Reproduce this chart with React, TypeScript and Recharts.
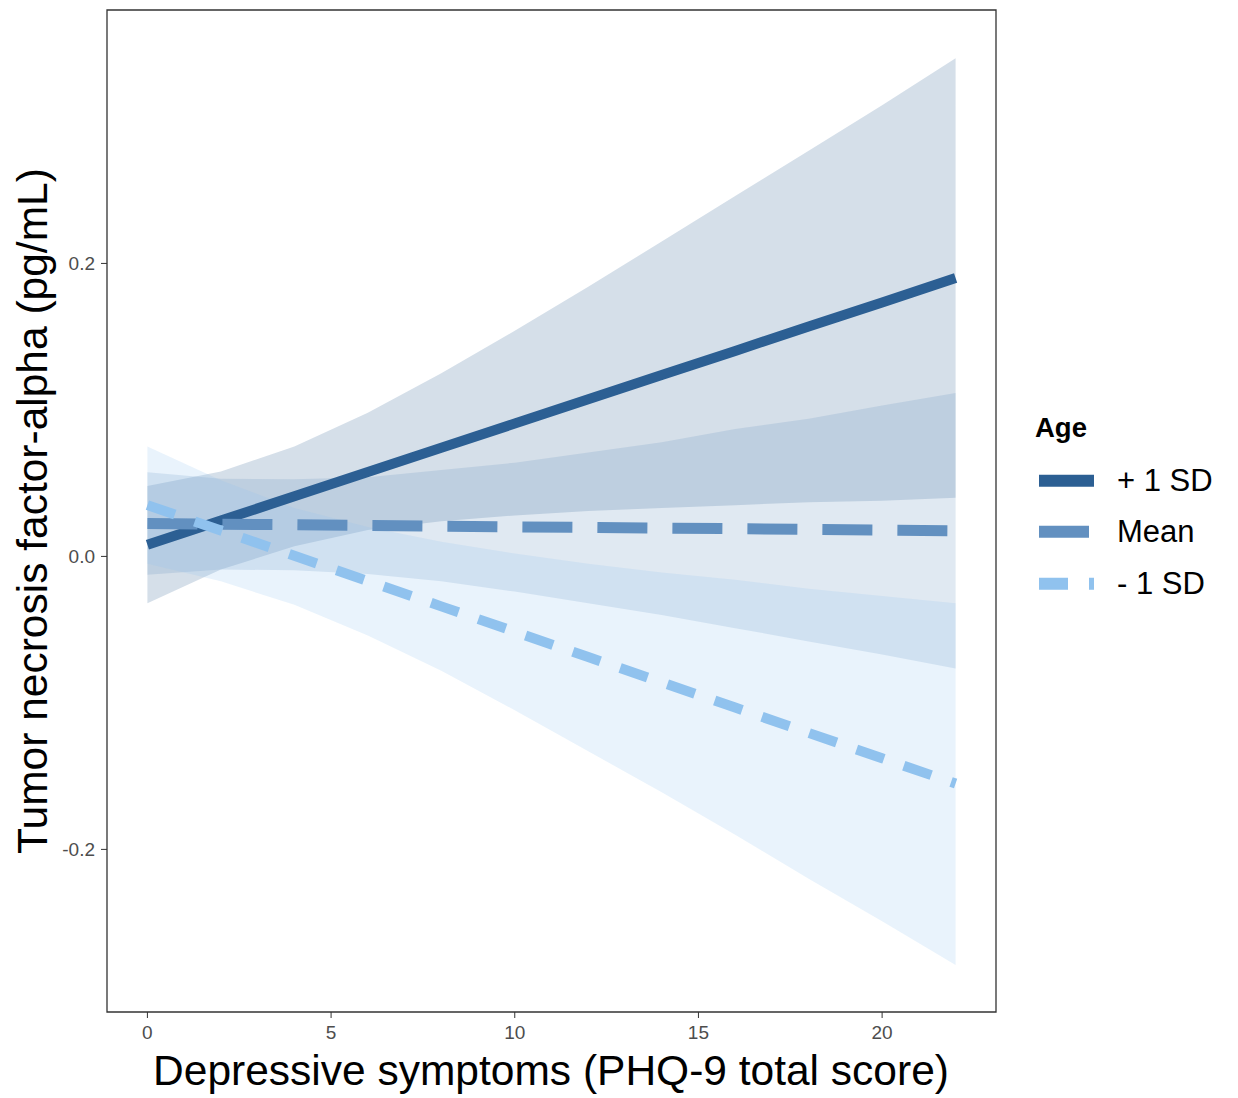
import React from "react";
import { ComposedChart, Area, Line, XAxis, YAxis, ReferenceArea } from "recharts";

// PHQ-9 score grid
const X_VALUES = [0, 2, 4, 6, 8, 10, 12, 14, 16, 18, 20, 22];

// + 1 SD age
const PLUS_FIT = [0.008, 0.0245, 0.041, 0.0576, 0.0742, 0.0907, 0.1072, 0.1238, 0.1403, 0.1569, 0.1734, 0.19];
const PLUS_LOW = [-0.032, -0.009, 0.007, 0.018, 0.024, 0.028, 0.031, 0.033, 0.035, 0.037, 0.038, 0.04];
const PLUS_HIGH = [0.048, 0.058, 0.075, 0.098, 0.125, 0.154, 0.184, 0.215, 0.246, 0.277, 0.308, 0.34];

// mean age
const MEAN_FIT = [0.0225, 0.022, 0.0216, 0.0211, 0.0207, 0.0202, 0.0198, 0.0193, 0.0189, 0.0184, 0.018, 0.0175];
const MEAN_LOW = [-0.0125, -0.009, -0.0094, -0.012, -0.017, -0.024, -0.032, -0.04, -0.049, -0.058, -0.067, -0.0765];
const MEAN_HIGH = [0.0575, 0.053, 0.0526, 0.054, 0.059, 0.064, 0.071, 0.078, 0.087, 0.094, 0.103, 0.1115];

// - 1 SD age
const MINUS_FIT = [0.035, 0.0177, 0.0004, -0.0168, -0.0341, -0.0514, -0.0687, -0.086, -0.1032, -0.1205, -0.1378, -0.155];
const MINUS_LOW = [-0.005, -0.017, -0.033, -0.054, -0.078, -0.105, -0.133, -0.161, -0.19, -0.22, -0.249, -0.279];
const MINUS_HIGH = [0.075, 0.052, 0.033, 0.02, 0.01, 0.002, -0.005, -0.011, -0.016, -0.022, -0.027, -0.032];

const X_TICKS = [0, 5, 10, 15, 20];
const Y_TICKS = [-0.2, 0, 0.2];
const X_DOMAIN: [number, number] = [-1.1, 23.1];
const Y_DOMAIN: [number, number] = [-0.311, 0.373];

const SERIES = [
  { name: "+ 1 SD", color: "#2c5f93", dash: undefined, width: 10 },
  { name: "Mean", color: "#6290c0", dash: "50 25", width: 11 },
  { name: "- 1 SD", color: "#90c2ee", dash: "29 21", width: 10 },
];

const FONT = "'Liberation Sans', Arial, sans-serif";

const data = X_VALUES.map((x, i) => ({
  x,
  plus: PLUS_FIT[i],
  plusBand: [PLUS_LOW[i], PLUS_HIGH[i]],
  mean: MEAN_FIT[i],
  meanBand: [MEAN_LOW[i], MEAN_HIGH[i]],
  minus: MINUS_FIT[i],
  minusBand: [MINUS_LOW[i], MINUS_HIGH[i]],
}));

function YTitle() {
  const cx = 24;
  const cy = 503;
  return (
    <text x={cx} y={cy} transform={`rotate(-90 ${cx} ${cy})`} textAnchor="middle" dominantBaseline="central"
      fontSize={42.5} fontFamily={FONT} fill="#000">
      Tumor necrosis factor-alpha (pg/mL)
    </text>
  );
}

function XTitle() {
  return (
    <text x={543} y={1062} textAnchor="middle" dominantBaseline="central" fontSize={42.5} fontFamily={FONT} fill="#000">
      Depressive symptoms (PHQ-9 total score)
    </text>
  );
}

function AgeLegend() {
  const rows = [80.7, 131.7, 183.7];
  return (
    <svg width={218} height={220} style={{ position: "absolute", left: 1012, top: 392 }}>
      <text x={15} y={37} fontSize={27.5} fontWeight="bold" fontFamily={FONT} fill="#000">Age</text>
      {SERIES.map((s, i) => (
        <g key={s.name}>
          <line x1={19} x2={74} y1={rows[i]} y2={rows[i]} stroke={s.color} strokeWidth={12} strokeDasharray={s.dash} />
          <text x={97} y={rows[i]} dominantBaseline="central" fontSize={31} fontFamily={FONT} fill="#000">{s.name}</text>
        </g>
      ))}
    </svg>
  );
}

export default function App() {
  const tickStyle = { fill: "#4d4d4d", fontSize: 19, fontFamily: FONT };
  return (
    <div style={{ position: "relative", width: 1230, height: 1090, background: "#fff" }}>
      <ComposedChart width={1230} height={1090} data={data} margin={{ top: 2, right: 242, bottom: 0, left: 0 }}>
        <XAxis type="number" dataKey="x" domain={X_DOMAIN} ticks={X_TICKS} allowDataOverflow height={86}
          axisLine={false} tickSize={6} tickMargin={8} tickLine={{ stroke: "#333" }} tick={tickStyle}
          label={<XTitle />} />
        <YAxis type="number" domain={Y_DOMAIN} ticks={Y_TICKS} allowDataOverflow width={99}
          axisLine={false} tickSize={6} tickMargin={6} tickLine={{ stroke: "#333" }} tick={tickStyle}
          tickFormatter={(v: number) => v.toFixed(1)} label={<YTitle />} />
        <Area type="linear" dataKey="plusBand" fill="#2c5f93" fillOpacity={0.2} stroke="none" isAnimationActive={false} />
        <Area type="linear" dataKey="meanBand" fill="#6290c0" fillOpacity={0.2} stroke="none" isAnimationActive={false} />
        <Area type="linear" dataKey="minusBand" fill="#90c2ee" fillOpacity={0.2} stroke="none" isAnimationActive={false} />
        <Line type="linear" dataKey="plus" stroke={SERIES[0].color} strokeWidth={SERIES[0].width} dot={false} isAnimationActive={false} />
        <Line type="linear" dataKey="mean" stroke={SERIES[1].color} strokeWidth={SERIES[1].width} strokeDasharray={SERIES[1].dash} dot={false} isAnimationActive={false} />
        <Line type="linear" dataKey="minus" stroke={SERIES[2].color} strokeWidth={SERIES[2].width} strokeDasharray={SERIES[2].dash} dot={false} isAnimationActive={false} />
        <ReferenceArea x1={X_DOMAIN[0]} x2={X_DOMAIN[1]} y1={Y_DOMAIN[0]} y2={Y_DOMAIN[1]} fill="none" stroke="#333" strokeWidth={1.3} ifOverflow="visible" />
      </ComposedChart>
      <AgeLegend />
    </div>
  );
}
